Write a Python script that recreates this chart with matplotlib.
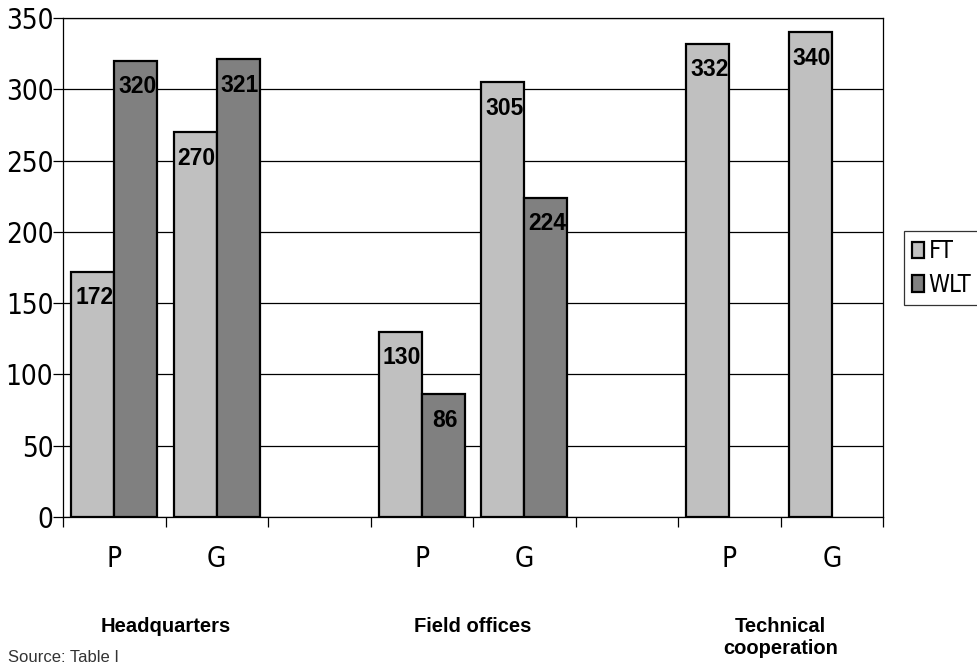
import numpy as np
import matplotlib
matplotlib.use("Agg")
import matplotlib.pyplot as plt

# slots: HQ P, HQ G, gap, FO P, FO G, gap, TC P, TC G
sub_labels = ["P", "G", "", "P", "G", "", "P", "G"]
ft = [172, 270, np.nan, 130, 305, np.nan, 332, 340]
wlt = [320, 321, np.nan, 86, 224, np.nan, np.nan, np.nan]
groups = ["Headquarters", "Field offices", "Technical\ncooperation"]
group_pos = [1, 4, 7]
yticks = [0, 50, 100, 150, 200, 250, 300, 350]

narrow = ["DejaVu Sans"]
arial = ["Liberation Sans", "DejaVu Sans"]

fig = plt.figure(figsize=(9.77, 6.66), dpi=100)
ax = fig.add_axes([63 / 977, 1 - 517 / 666, 820 / 977, 499 / 666])

x = np.arange(len(sub_labels)) + 0.5
w = 0.42
ax.bar(x - w / 2, ft, w, color="#c0c0c0", edgecolor="black", linewidth=1.6, label="FT", zorder=3)
ax.bar(x + w / 2, wlt, w, color="#808080", edgecolor="black", linewidth=1.6, label="WLT", zorder=3)

for xi, v in zip(x - w / 2, ft):
    if not np.isnan(v):
        ax.annotate(str(v), (xi, v), xytext=(1, -10.5), textcoords="offset points",
                    ha="center", va="top", fontsize=16.5, fontweight="bold", family=arial, zorder=4)
for xi, v in zip(x + w / 2, wlt):
    if not np.isnan(v):
        ax.annotate(str(v), (xi, v), xytext=(1, -10.5), textcoords="offset points",
                    ha="center", va="top", fontsize=16.5, fontweight="bold", family=arial, zorder=4)

ax.set_xlim(0, 8)
ax.set_ylim(0, 350)
ax.set_yticks(yticks)
ax.set_yticklabels([str(t) for t in yticks], family=narrow, fontstretch="condensed", fontsize=20)
ax.yaxis.grid(True, color="black", linewidth=0.9, zorder=0)
ax.set_xticks(range(9))
ax.set_xticklabels([])
ax.set_xticks(x, minor=True)
ax.set_xticklabels(sub_labels, minor=True, family=narrow, fontstretch="condensed", fontsize=20)
ax.tick_params(axis="x", which="major", length=7, width=0.9, direction="out")
ax.tick_params(axis="x", which="minor", length=0, pad=20)
ax.tick_params(axis="y", length=7, width=0.9, pad=0)
for s in ax.spines.values():
    s.set_linewidth(0.9)

for gp, g in zip(group_pos, groups):
    ax.text(gp, -0.2, g, transform=ax.get_xaxis_transform(), ha="center", va="top",
            fontsize=14.5, fontweight="bold", family=arial, linespacing=1.2)

leg = ax.legend(loc="upper left", bbox_to_anchor=(904 / 977, 1 - 231 / 666),
                bbox_transform=fig.transFigure, frameon=True, fancybox=False,
                edgecolor="black", prop={"family": narrow, "stretch": "condensed", "size": 17},
                handlelength=0.5, handleheight=0.7, handletextpad=0.2,
                borderpad=0.35, labelspacing=0.4, borderaxespad=0)
leg.get_frame().set_linewidth(0.9)

fig.text(8 / 977, 1 / 666, "Source: Table I", ha="left", va="bottom",
         fontsize=12, family=arial, color="#333333")

fig.savefig("out.png", dpi=100)
